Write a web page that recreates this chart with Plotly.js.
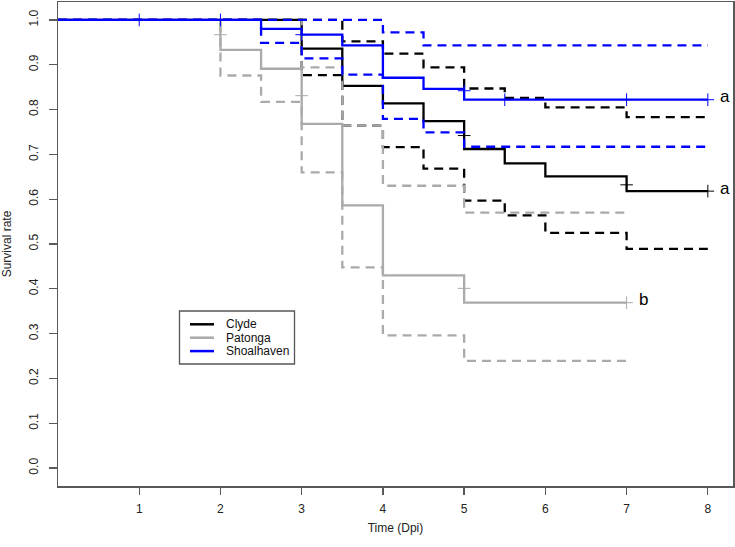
<!DOCTYPE html>
<html>
<head>
<meta charset="utf-8">
<script src="https://cdn.plot.ly/plotly-3.0.1.min.js"></script>
<style>html,body{margin:0;padding:0;background:#fff;}#chart{width:735px;height:547px;}</style>
</head>
<body>
<div id="chart"></div>
<script>
// ---- Data (Kaplan-Meier curves with 95% CI) ----
const sites = ["Clyde", "Patonga", "Shoalhaven"];
const groupLabels = ["a", "b", "a"];

const clydeTime  = [0, 3, 3.5, 4, 4.5, 5, 5.5, 6, 7, 8];
const clydeSurv  = [1, 0.936, 0.853, 0.814, 0.774, 0.712, 0.680, 0.651, 0.618, 0.618];
const clydeUpper = [1, 1, 0.952, 0.925, 0.894, 0.847, 0.826, 0.805, 0.783, 0.783];
const clydeLower = [1, 0.877, 0.764, 0.716, 0.668, 0.597, 0.564, 0.525, 0.489, 0.489];
const clydeCensT = [5, 7, 8];
const clydeCensS = [0.742, 0.632, 0.618];

const patongaTime  = [0, 2, 2.5, 3, 3.5, 4, 5, 7];
const patongaSurv  = [1, 0.933, 0.891, 0.768, 0.586, 0.430, 0.369, 0.369];
const patongaUpper = [1, 1, 1, 0.894, 0.764, 0.630, 0.570, 0.570];
const patongaLower = [1, 0.876, 0.817, 0.660, 0.448, 0.296, 0.239, 0.239];
const patongaCensT = [2, 3, 5, 7];
const patongaCensS = [0.967, 0.831, 0.401, 0.369];

const shoalTime  = [0, 2.5, 3, 3.5, 4, 4.5, 5, 8];
const shoalSurv  = [1, 0.980, 0.967, 0.943, 0.871, 0.846, 0.822, 0.822];
const shoalUpper = [1, 1, 1, 1, 0.972, 0.943, 0.943, 0.943];
const shoalLower = [1, 0.949, 0.914, 0.878, 0.779, 0.749, 0.717, 0.717];
const shoalCensT = [1, 2, 3, 5, 5.5, 7, 8];
const shoalCensS = [1, 1, 0.967, 0.842, 0.822, 0.822, 0.822];

const xTicks = [1, 2, 3, 4, 5, 6, 7, 8];
const yTicks = [0, 0.1, 0.2, 0.3, 0.4, 0.5, 0.6, 0.7, 0.8, 0.9, 1.0];

// ---- Styling ----
const colors = ["#000000", "#aaaaaa", "#0000ff"];
const series = [
  {t: clydeTime, s: clydeSurv, u: clydeUpper, l: clydeLower, ct: clydeCensT, cs: clydeCensS},
  {t: patongaTime, s: patongaSurv, u: patongaUpper, l: patongaLower, ct: patongaCensT, cs: patongaCensS},
  {t: shoalTime, s: shoalSurv, u: shoalUpper, l: shoalLower, ct: shoalCensT, cs: shoalCensS}
];

const traces = [];
series.forEach((d, i) => {
  const c = colors[i];
  traces.push({x: d.t, y: d.u, type: "scatter", mode: "lines", line: {shape: "hv", color: c, width: 2.3, dash: "9px,6px"}, hoverinfo: "skip", showlegend: false});
  traces.push({x: d.t, y: d.l, type: "scatter", mode: "lines", line: {shape: "hv", color: c, width: 2.3, dash: "9px,6px"}, hoverinfo: "skip", showlegend: false});
  traces.push({x: d.t, y: d.s, type: "scatter", mode: "lines", line: {shape: "hv", color: c, width: 2.3}, name: sites[i], showlegend: false});
  traces.push({x: d.ct, y: d.cs, type: "scatter", mode: "markers", marker: {symbol: "cross-thin", size: 9, line: {color: c, width: 1}}, hoverinfo: "skip", showlegend: false});
});

// ---- Layout helpers (pixel -> paper) ----
const M = {l: 58, r: 2, t: 2, b: 61};
const W = 735, H = 547;
const pw = W - M.l - M.r, ph = H - M.t - M.b;
const px = x => (x - M.l) / pw;
const py = y => 1 - (y - M.t) / ph;

const shapes = [];
const annotations = [];

// custom legend box (R style)
shapes.push({type: "rect", xref: "paper", yref: "paper", x0: px(179.5), x1: px(294.5), y0: py(311), y1: py(364), line: {color: "#555555", width: 1.3}, fillcolor: "rgba(255,255,255,0)"});
sites.forEach((name, i) => {
  const yy = 324.3 + i * 13.4;
  shapes.push({type: "line", xref: "paper", yref: "paper", x0: px(190), x1: px(214), y0: py(yy), y1: py(yy), line: {color: colors[i], width: 2.5}});
  annotations.push({xref: "paper", yref: "paper", x: px(224), y: py(yy), text: name, showarrow: false, xanchor: "left", yanchor: "middle", font: {family: "Liberation Sans, Arial, sans-serif", size: 12, color: "#111111"}});
});

// group letters at the end of each curve
series.forEach((d, i) => {
  const n = d.t.length - 1;
  annotations.push({x: d.t[n], y: d.s[n], xref: "x", yref: "y", text: groupLabels[i], showarrow: false, xanchor: "left", yanchor: "middle", xshift: 10, yshift: 3, font: {family: "Liberation Sans, Arial, sans-serif", size: 17, color: "#000000"}});
});

const axisFont = {family: "Liberation Sans, Arial, sans-serif", size: 12, color: "#222222"};

const layout = {
  width: W, height: H,
  margin: M,
  paper_bgcolor: "#ffffff", plot_bgcolor: "#ffffff",
  showlegend: false,
  xaxis: {
    range: [0, 8.31], tickvals: xTicks, ticktext: xTicks.map(String),
    showgrid: false, zeroline: false, showline: true, mirror: true, linecolor: "#595959", linewidth: 1.5,
    ticks: "outside", ticklen: 7, tickwidth: 1.3, tickcolor: "#595959", tickfont: axisFont,
    ticklabelstandoff: 4,
    title: {text: "Time (Dpi)", font: axisFont, standoff: 8},
    automargin: false
  },
  yaxis: {
    range: [-0.04, 1.04], tickvals: yTicks, ticktext: yTicks.map(v => v.toFixed(1)),
    showgrid: false, zeroline: false, showline: true, mirror: true, linecolor: "#595959", linewidth: 1.5,
    ticks: "outside", ticklen: 8, tickwidth: 1.3, tickcolor: "#595959", tickfont: axisFont,
    tickangle: -90, ticklabelstandoff: 6,
    title: {text: "Survival rate", font: axisFont, standoff: 12},
    automargin: false
  },
  shapes: shapes,
  annotations: annotations
};

Plotly.newPlot("chart", traces, layout, {displayModeBar: false, staticPlot: true});
</script>
</body>
</html>
